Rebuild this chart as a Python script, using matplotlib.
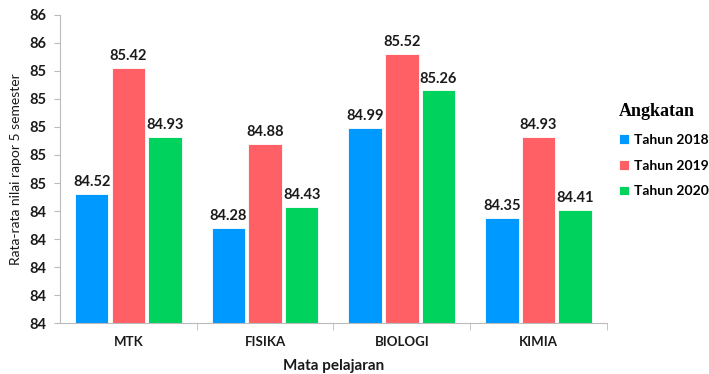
import numpy as np
import matplotlib.pyplot as plt

plt.rcParams['font.family'] = ['Lato', 'DejaVu Sans']

# rata-rata nilai rapor per mata pelajaran dan angkatan
mapel = ['MTK', 'FISIKA', 'BIOLOGI', 'KIMIA']
tahun = ['Tahun 2018', 'Tahun 2019', 'Tahun 2020']
nilai_2018 = [84.52, 84.28, 84.99, 84.35]
nilai_2019 = [85.42, 84.88, 85.52, 84.93]
nilai_2020 = [84.93, 84.43, 85.26, 84.41]
warna = ['#0099FF', '#FF6066', '#00D25E']

yticks = [83.6, 83.8, 84.0, 84.2, 84.4, 84.6, 84.8, 85.0, 85.2, 85.4, 85.6, 85.8]
ylabels = ['84', '84', '84', '84', '84', '85', '85', '85', '85', '85', '86', '86']

fig = plt.figure(figsize=(7.09, 3.74), dpi=100)
ax = fig.add_axes([0.0846, 0.1356, 0.7714, 0.8251])

x = np.arange(len(mapel))
lebar = 0.245
langkah = 0.268
for i, (data, c, lab) in enumerate(zip([nilai_2018, nilai_2019, nilai_2020], warna, tahun)):
    pos = x + (i - 1) * langkah
    ax.bar(pos, data, width=lebar, bottom=0, color=c, label=lab,
           edgecolor='white', linewidth=0.6)
    for px, v in zip(pos, data):
        ax.text(px, v + 0.035, f'{v:.2f}', ha='center', va='bottom',
                fontsize=10.5, fontweight='bold', color='#1a1a1a')

ax.set_ylim(83.6, 85.8)
ax.set_xlim(-0.5, 3.5)
ax.set_yticks(yticks)
ax.set_yticklabels(ylabels, fontsize=10.5, fontweight='bold', color='#1a1a1a')
ax.set_xticks(x)
ax.set_xticklabels(mapel, fontsize=9.5, fontweight='bold', color='#1a1a1a')
ax.set_xticks([0.5, 1.5, 2.5, 3.5], minor=True)
ax.tick_params(axis='x', which='major', length=0, pad=9)
ax.tick_params(axis='x', which='minor', length=5, color='#BBBBBB')
ax.tick_params(axis='y', length=4, color='#BBBBBB', pad=6)

for s in ['top', 'right']:
    ax.spines[s].set_visible(False)
for s in ['left', 'bottom']:
    ax.spines[s].set_color('#BBBBBB')
    ax.spines[s].set_linewidth(0.8)

ax.set_ylabel('Rata-rata nilai rapor 5 semester', fontsize=10, color='#1a1a1a', labelpad=5)
ax.set_xlabel('Mata pelajaran', fontsize=11, fontweight='bold', color='#1a1a1a', labelpad=8)

leg = ax.legend(loc='upper left', bbox_to_anchor=(0.865, 0.74), bbox_transform=fig.transFigure,
                frameon=False, title='Angkatan', handlelength=0.7, handleheight=0.7,
                handletextpad=0.4, labelspacing=1.0, borderaxespad=0,
                prop={'family': 'Lato', 'weight': 'bold', 'size': 10})
leg.get_title().set_fontfamily('Liberation Serif')
leg.get_title().set_fontweight('bold')
leg.get_title().set_fontsize(13)
leg._legend_box.align = 'left'

fig.savefig('out.png', dpi=100)
